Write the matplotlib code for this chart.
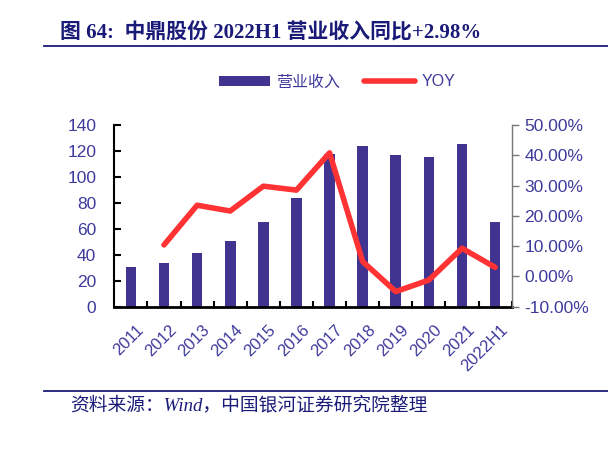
import matplotlib
matplotlib.use("Agg")
import matplotlib.pyplot as plt
from matplotlib.lines import Line2D
from matplotlib.patches import Patch
import numpy as np

categories = ["2011", "2012", "2013", "2014", "2015", "2016", "2017", "2018",
              "2019", "2020", "2021", "2022H1"]
revenue = [30.5, 33.7, 41.6, 50.3, 65.3, 83.7, 117.4, 123.5, 116.8, 115.3, 125.5, 65.6]
yoy = [None, 10.4, 23.5, 21.6, 29.8, 28.5, 40.8, 4.9, -5.0, -1.2, 9.3, 3.0]
left_ticks = [0, 20, 40, 60, 80, 100, 120, 140]
right_ticks = [-10, 0, 10, 20, 30, 40, 50]

plt.rcParams['font.family'] = ['Liberation Sans', 'Noto Sans CJK SC', 'DejaVu Sans']

W, H = 608, 453
fig = plt.figure(figsize=(W / 100, H / 100), dpi=100)

bar_c = "#403490"
line_c = "#ff3333"
tick_c = "#3d3a9c"
navy = "#1a1a78"

ax = fig.add_axes([114.3 / W, 1 - 306.7 / H, (511.7 - 114.3) / W, (306.7 - 125) / H])
x = np.arange(len(categories))
ax.bar(x, revenue, width=0.32, color=bar_c, zorder=2)
ax.set_xlim(-0.5, len(categories) - 0.5)
ax.set_ylim(0, 140)
ax.set_yticks(left_ticks)
ax.set_yticklabels([str(t) for t in left_ticks], color=tick_c, fontsize=12.5)
ax.set_xticks(x + 0.5)
ax.set_xticklabels([])
ax.tick_params(axis='x', direction='in', length=4, width=1.5, color='black')
ax.tick_params(axis='y', direction='in', length=5, width=1.5, color='black', pad=13)
for i, c in enumerate(categories):
    ax.text(i + 0.15, -12, c, rotation=45, ha='right', va='top', color=tick_c,
            fontsize=12, transform=ax.transData, rotation_mode='anchor')
for s in ['top', 'right']:
    ax.spines[s].set_visible(False)
ax.spines['left'].set_linewidth(1.5)
ax.spines['bottom'].set_linewidth(2)

ax2 = ax.twinx()
xs = [i for i, v in enumerate(yoy) if v is not None]
ys = [v for v in yoy if v is not None]
ax2.plot(xs, ys, color=line_c, linewidth=4, solid_capstyle='round', solid_joinstyle='round', zorder=3)
ax2.set_ylim(-10, 50)
ax2.set_yticks(right_ticks)
ax2.set_yticklabels([f"{t:.2f}%" for t in right_ticks], color=tick_c, fontsize=12.5)
ax2.tick_params(axis='y', direction='out', length=5, width=1, color='#777777', pad=4)
for s in ['top', 'left', 'bottom']:
    ax2.spines[s].set_visible(False)
ax2.spines['right'].set_color('#777777')
ax2.spines['right'].set_linewidth(1)

handles = [Patch(facecolor=bar_c, edgecolor='none'),
           Line2D([0], [0], color=line_c, linewidth=4, solid_capstyle='round')]
leg = fig.legend(handles, ["营业收入", "YOY"], loc='center', bbox_to_anchor=(337 / W, 1 - 82 / H),
                 ncol=2, frameon=False, fontsize=11.5, handlelength=3.2, handleheight=0.6,
                 columnspacing=1.5, handletextpad=0.4)
for t in leg.get_texts():
    t.set_color(tick_c)

fig.text(60 / W, 1 - 33 / H, "图 64:  中鼎股份 2022H1 营业收入同比+2.98%", fontsize=15,
         fontweight='bold', color=navy, ha='left', va='center',
         family=['Liberation Serif', 'Noto Sans CJK SC'])
fig.add_artist(Line2D([44 / W, 1.0], [1 - 46 / H, 1 - 46 / H], color=navy, linewidth=1.3,
                      transform=fig.transFigure))
fig.add_artist(Line2D([44 / W, 1.0], [1 - 391 / H, 1 - 391 / H], color=navy, linewidth=1.3,
                      transform=fig.transFigure))
fig.text(70 / W, 1 - 405 / H, "资料来源：Wind，中国银河证券研究院整理", fontsize=13.5,
         style='italic', color=navy, ha='left', va='center',
         family=['Liberation Serif', 'Noto Sans CJK SC'])

fig.savefig("out.png", dpi=100)
